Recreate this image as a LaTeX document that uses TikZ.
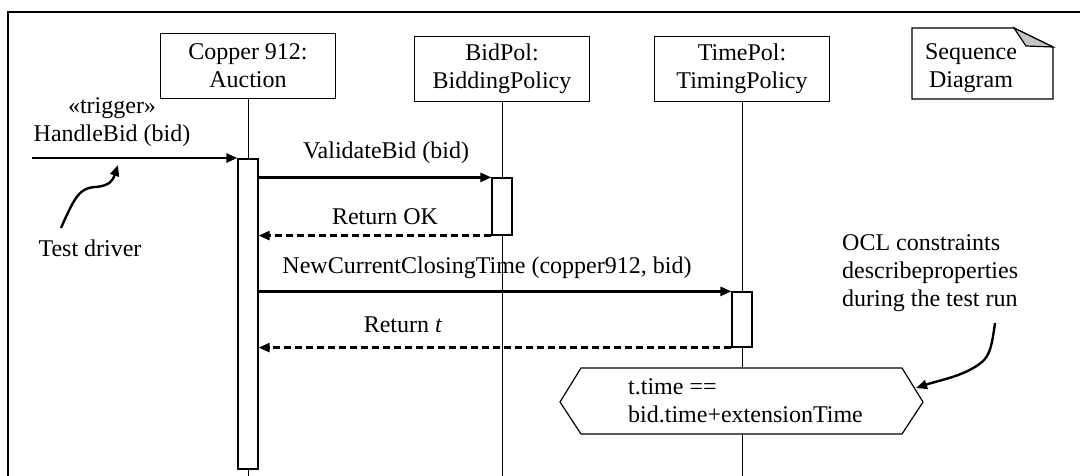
\documentclass[tikz,border=0pt]{standalone}
\usepackage{fontspec}
\setmainfont{Liberation Serif}
\usetikzlibrary{arrows.meta}
\begin{document}
\begin{tikzpicture}[x=1pt,y=-1pt,
  every node/.style={font=\fontsize{24}{28}\selectfont, inner sep=0pt},
  obj/.style={draw, line width=1.2pt, minimum width=175pt, minimum height=65pt, align=center},
  lbl/.style={align=center},
  act/.style={draw, fill=white, line width=1.2pt, minimum width=20pt, inner sep=0pt},
  life/.style={line width=1pt},
  msg/.style={line width=2.4pt, -{Triangle[length=11pt,width=9pt]}},
  ret/.style={msg, dash pattern=on 7pt off 4pt},
  frame/.style={line width=2.6pt},
]
\useasboundingbox (0,0) rectangle (1080,476);
% frame
\coordinate (fb) at (8,476);
\coordinate (fc) at (8,12);
\coordinate (fr) at (1080,12);
\draw[frame] (fb) -- (fc) -- (fr);

% objects
\node[obj] (cu) at (248,66) {Copper 912:\\Auction};
\node[obj] (bp) at (502,69) {BidPol:\\BiddingPolicy};
\node[obj] (tp) at (742,69) {TimePol:\\TimingPolicy};

% lifelines
\coordinate (e1) at (248,476);
\coordinate (e2) at (502,476);
\coordinate (e3) at (742,476);
\draw[life] (cu.south) -- (e1);
\draw[life] (bp.south) -- (e2);
\draw[life] (tp.south) -- (e3);

% activations
\node[act, minimum height=310pt] (a1) at (248,314) {};
\node[act, minimum height=57pt] (a2) at (502,206.5) {};
\node[act, minimum height=55pt] (a3) at (742,319.5) {};

% note
\coordinate (n1) at (912,28);
\coordinate (n2) at (1014,28);
\coordinate (n3) at (1053,47);
\coordinate (n4) at (1053,99);
\coordinate (n5) at (912,99);
\coordinate (n6) at (1026,46);
\draw[line width=1.2pt] (n1) -- (n2) -- (n3) -- (n4) -- (n5) -- cycle;
\draw[line width=1.2pt, fill=gray!45] (n2) -- (n3) -- (n6) -- cycle;
\node[lbl] (sd) at (971,68) {Sequence\\Diagram};

% trigger message
\coordinate (hs) at (32,158);
\draw[msg] (hs) -- (hs -| a1.west);
\node[lbl] (hl) at (112,122) {«trigger»\\HandleBid (bid)};

% messages
\draw[msg] (a2.north west -| a1.east) -- (a2.north west);
\node (vl) at (386,153) {ValidateBid (bid)};
\draw[ret] (a2.south west) -- (a2.south west -| a1.east);
\node (rl) at (385,217) {Return OK};
\draw[msg] (a3.north west -| a1.east) -- (a3.north west);
\node (nl) at (487,268) {NewCurrentClosingTime (copper912, bid)};
\draw[ret] (a3.south west) -- (a3.south west -| a1.east);
\node (tl) at (403,325) {Return \textit{t}};

% test driver
\node (td) at (90,248) {Test driver};
\coordinate (ts) at (61,228);
\coordinate (te) at (118,165);
\draw[msg] (ts) .. controls (75,196) and (80,188) .. (95,187) .. controls (110,186) and (113,180) .. (te);

% constraint
\coordinate (c1) at (560,402);
\coordinate (c2) at (581,368);
\coordinate (c3) at (902,368);
\coordinate (c4) at (923,402);
\coordinate (c5) at (902,434);
\coordinate (c6) at (581,434);
\draw[line width=1.2pt, fill=white] (c1) -- (c2) -- (c3) -- (c4) -- (c5) -- (c6) -- cycle;
\node[anchor=west, align=left] (ct) at (628,401) {t.time ==\\bid.time+extensionTime};

% OCL note
\node[anchor=west, align=left] (ocl) at (842,273) {OCL constraints\\describeproperties\\during the test run};
\coordinate (os) at (995,323);
\coordinate (oe) at (916,388);
\draw[msg] (os) .. controls (992,345) and (990,355) .. (982,362) .. controls (965,376) and (940,380) .. (oe);
\end{tikzpicture}
\end{document}
